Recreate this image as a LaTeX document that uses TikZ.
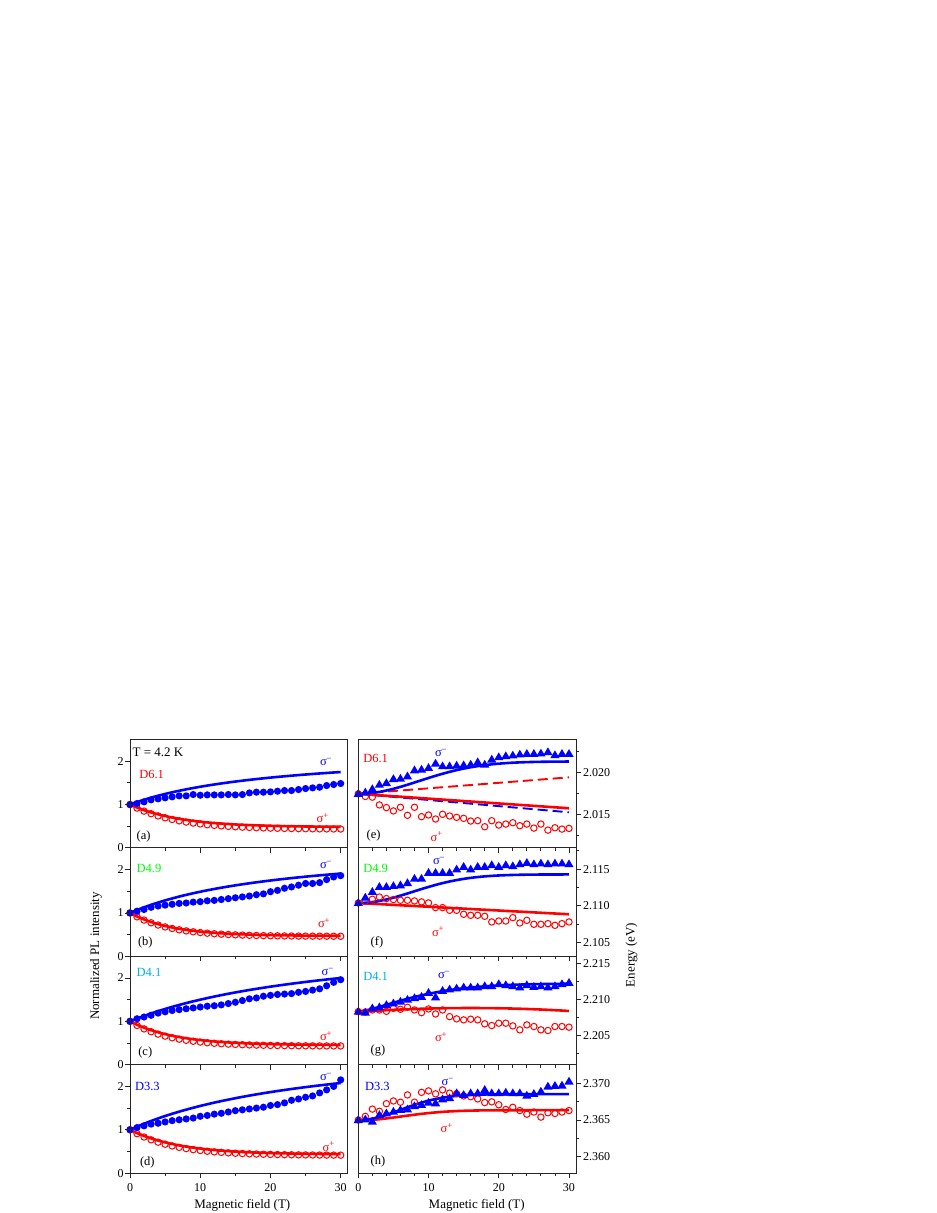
\documentclass[tikz,border=0pt]{standalone}
\usepackage{fontspec}
\setmainfont{Liberation Serif}
\newcommand{\sigmin}{σ\textsuperscript{−}}
\newcommand{\sigpls}{σ\textsuperscript{+}}
\begin{document}
\begin{tikzpicture}[x=1pt,y=-1pt,
  every node/.style={inner sep=0pt, outer sep=0pt},
  frame/.style={line width=0.9pt, black!85},
  tk/.style={line width=0.9pt, black!85},
  bfit/.style={blue, line width=2.6pt},
  rfit/.style={red, line width=2.6pt},
  bdash/.style={blue, line width=1.9pt, dash pattern=on 10pt off 5pt},
  rdash/.style={red, line width=1.9pt, dash pattern=on 10pt off 5pt},
  rring/.style={draw=red, line width=1pt},
  ticklab/.style={font=\fontsize{12}{14}\selectfont},
  lab/.style={font=\fontsize{12.5}{14}\selectfont, anchor=west},
  ttl/.style={font=\fontsize{13}{15}\selectfont},
]
\useasboundingbox (0,0) rectangle (937,1213);
\fill[white] (0,0) rectangle (937,1213);

% ================= LEFT PANELS =================
% (a)
\begin{scope}[shift={(130,847.9)}, x=7.023pt, y=43.36pt]
  \draw[rfit] plot[domain=0:30, samples=61, smooth] (\x,{0.48+0.52*exp(-\x/7)});
  \draw[bfit] plot[domain=0:30, samples=61, smooth] (\x,{1+1.28*\x/(\x+21.2)});
  \foreach \i in {0,...,30} \draw[rring] (\i,{0.43+0.57*exp(-\i/6.5)}) circle[radius=3.2pt];
  \foreach \v [count=\i from 0] in {1.0,1.023,1.062,1.108,1.131,1.154,1.177,1.2,1.2,1.231,1.215,1.223,1.223,1.223,1.231,1.223,1.231,1.269,1.285,1.285,1.292,1.308,1.323,1.323,1.346,1.369,1.385,1.4,1.438,1.462,1.485}
    \fill[blue] (\i,\v) circle[radius=3.6pt];
  \foreach \t in {0,1,2} {\draw[tk] (0,\t) -- ++(-5pt,0pt); \node[ticklab,anchor=east,xshift=-6.5pt] at (0,\t) {\t};}
  \foreach \t in {0.5,1.5} \draw[tk] (0,\t) -- ++(-3pt,0pt);
\end{scope}
% (b)
\begin{scope}[shift={(130,956.3)}, x=7.023pt, y=43.36pt]
  \draw[rfit] plot[domain=0:30, samples=61, smooth] (\x,{0.47+0.53*exp(-\x/6)});
  \draw[bfit] plot[domain=0:30, samples=61, smooth] (\x,{1+1.59*\x/(\x+22.5)});
  \foreach \i in {0,...,30} \draw[rring] (\i,{0.46+0.54*exp(-\i/5.5)}) circle[radius=3.2pt];
  \foreach \v [count=\i from 0] in {1.0,1.04,1.08,1.13,1.16,1.18,1.2,1.22,1.23,1.25,1.26,1.28,1.29,1.31,1.33,1.35,1.37,1.39,1.42,1.44,1.49,1.52,1.57,1.6,1.64,1.68,1.68,1.7,1.77,1.83,1.86}
    \fill[blue] (\i,\v) circle[radius=3.6pt];
  \foreach \t in {0,1,2} {\draw[tk] (0,\t) -- ++(-5pt,0pt); \node[ticklab,anchor=east,xshift=-6.5pt] at (0,\t) {\t};}
  \foreach \t in {0.5,1.5} \draw[tk] (0,\t) -- ++(-3pt,0pt);
\end{scope}
% (c)
\begin{scope}[shift={(130,1064.7)}, x=7.023pt, y=43.36pt]
  \draw[rfit] plot[domain=0:30, samples=61, smooth] (\x,{0.45+0.55*exp(-\x/6.5)});
  \draw[bfit] plot[domain=0:30, samples=61, smooth] (\x,{1+2*\x/(\x+30)});
  \foreach \i in {0,...,30} \draw[rring] (\i,{0.43+0.57*exp(-\i/5.5)}) circle[radius=3.2pt];
  \foreach \v [count=\i from 0] in {1.0,1.06,1.10,1.14,1.19,1.22,1.25,1.27,1.29,1.31,1.33,1.35,1.36,1.38,1.41,1.44,1.48,1.52,1.54,1.58,1.60,1.62,1.63,1.64,1.67,1.69,1.72,1.75,1.82,1.90,1.96}
    \fill[blue] (\i,\v) circle[radius=3.6pt];
  \foreach \t in {0,1,2} {\draw[tk] (0,\t) -- ++(-5pt,0pt); \node[ticklab,anchor=east,xshift=-6.5pt] at (0,\t) {\t};}
  \foreach \t in {0.5,1.5} \draw[tk] (0,\t) -- ++(-3pt,0pt);
\end{scope}
% (d)
\begin{scope}[shift={(130,1173.1)}, x=7.023pt, y=43.36pt]
  \draw[rfit] plot[domain=0:30, samples=61, smooth] (\x,{0.43+0.57*exp(-\x/7)});
  \draw[bfit] plot[domain=0:30, samples=61, smooth] (\x,{1+2.08*\x/(\x+27.9)});
  \foreach \i in {0,...,30} \draw[rring] (\i,{0.41+0.59*exp(-\i/6)}) circle[radius=3.2pt];
  \foreach \v [count=\i from 0] in {1.0,1.05,1.09,1.13,1.15,1.18,1.21,1.23,1.25,1.27,1.31,1.33,1.36,1.38,1.41,1.44,1.46,1.48,1.50,1.52,1.56,1.58,1.62,1.68,1.71,1.75,1.78,1.85,1.92,2.0,2.15}
    \fill[blue] (\i,\v) circle[radius=3.6pt];
  \foreach \t in {0,1,2} {\draw[tk] (0,\t) -- ++(-5pt,0pt); \node[ticklab,anchor=east,xshift=-6.5pt] at (0,\t) {\t};}
  \foreach \t in {0.5,1.5} \draw[tk] (0,\t) -- ++(-3pt,0pt);
\end{scope}

% ================= RIGHT PANELS =================
% (e)  E0 = 2.015, meV
\begin{scope}[shift={(358.3,814.3)}, x=7.023pt, y=8.403pt]
  \draw[bdash] (0,2.44) -- (30,0.24);
  \draw[rdash] (0,2.44) -- (30,4.4);
  \draw[rfit] (0,2.44) -- (30,0.72);
  \draw[bfit] plot[domain=0:30, samples=61, smooth] (\x,{2.44+3.85*(1-exp(-(\x/12.2)*(\x/12.2)))});
  \foreach \v [count=\i from 0] in {2.44,2.12,2.04,1.12,0.8,0.4,0.84,-0.12,0.84,-0.28,-0.08,-0.56,0,-0.2,-0.36,-0.48,-0.8,-0.76,-1.48,-0.76,-1.28,-1.16,-1.0,-1.36,-1.16,-1.64,-1.16,-1.88,-1.6,-1.76,-1.68}
    \draw[rring] (\i,\v) circle[radius=3.2pt];
  \foreach \v [count=\i from 0] in {2.44,2.6,3.0,3.52,3.72,4.2,4.24,4.52,5.24,5.32,5.52,6.04,5.72,5.72,5.8,5.84,5.92,6.2,5.92,6.52,6.8,6.92,7.0,7.12,7.2,7.2,7.24,7.4,7.04,7.2,7.2}
    \fill[blue] (\i,\v) ++(-4.6pt,-3pt) -- ++(9.2pt,0pt) -- ++(-4.6pt,7.8pt) -- cycle;
  \foreach \t/\l in {0/2.015,5/2.020} {\draw[tk] (31,\t) -- ++(5pt,0pt); \node[ticklab,anchor=west,xshift=7pt] at (31,\t) {\l};}
  \foreach \t in {-2.5,2.5,7.5} \draw[tk] (31,\t) -- ++(3pt,0pt);
\end{scope}
% (f)  E0 = 2.110
\begin{scope}[shift={(358.3,905.76)}, x=7.023pt, y=7.324pt]
  \draw[rfit] (0,0.38) -- (30,-1.16);
  \draw[bfit] plot[domain=0:30, samples=61, smooth] (\x,{0.38+3.9*(1-exp(-(\x/11)*(\x/11)))});
  \foreach \v [count=\i from 0] in {0.38,0.6,0.89,1.2,0.98,0.85,0.75,0.75,0.66,0.53,0.39,-0.25,-0.25,-0.62,-0.62,-1.16,-1.3,-1.3,-1.44,-2.21,-2.08,-2.08,-1.62,-2.35,-1.99,-2.53,-2.53,-2.44,-2.67,-2.44,-2.21}
    \draw[rring] (\i,\v) circle[radius=3.2pt];
  \foreach \v [count=\i from 0] in {0.38,1.12,1.9,2.58,2.58,2.7,2.8,3.1,3.7,3.7,4.5,4.5,4.5,4.5,4.96,5.32,4.96,5.32,5.32,5.55,5.32,5.55,5.41,5.68,5.86,5.68,5.78,5.68,5.78,5.78,5.68}
    \fill[blue] (\i,\v) ++(-4.6pt,-3pt) -- ++(9.2pt,0pt) -- ++(-4.6pt,7.8pt) -- cycle;
  \foreach \t/\l in {-5/2.105,0/2.110,5/2.115} {\draw[tk] (31,\t) -- ++(5pt,0pt); \node[ticklab,anchor=west,xshift=7pt] at (31,\t) {\l};}
  \foreach \t in {-2.5,2.5,7.5} \draw[tk] (31,\t) -- ++(3pt,0pt);
\end{scope}
% (g)  E0 = 2.210
\begin{scope}[shift={(358.3,999.7)}, x=7.023pt, y=7.227pt]
  \draw[rfit] plot[domain=0:30, samples=61, smooth] (\x,{-1.75+0.6*(1-((\x-16)/17)*((\x-16)/17))});
  \draw[bfit] plot[domain=0.01:30, samples=61, smooth] (\x,{-1.65+3.9*(1-exp(0-pow(\x/10,1.4)))});
  \foreach \v [count=\i from 0] in {-1.65,-1.7,-1.42,-1.42,-1.6,-1.19,-1.32,-1.05,-1.42,-1.79,-1.28,-1.97,-1.42,-2.34,-2.65,-2.79,-2.70,-2.79,-3.34,-3.57,-3.25,-3.25,-3.62,-4.17,-3.48,-3.71,-4.17,-4.26,-3.71,-3.71,-3.80}
    \draw[rring] (\i,\v) circle[radius=3.2pt];
  \foreach \v [count=\i from 0] in {-1.65,-1.79,-1.19,-1.05,-0.73,-0.5,-0.27,0,0.23,0.41,0.96,0.33,1.24,1.42,1.56,1.7,1.7,1.7,1.88,1.88,2.16,2.02,1.88,1.7,2.02,1.79,1.88,1.7,1.88,2.16,2.34}
    \fill[blue] (\i,\v) ++(-4.6pt,-3pt) -- ++(9.2pt,0pt) -- ++(-4.6pt,7.8pt) -- cycle;
  \foreach \t/\l in {-5/2.205,0/2.210,5/2.215} {\draw[tk] (31,\t) -- ++(5pt,0pt); \node[ticklab,anchor=west,xshift=7pt] at (31,\t) {\l};}
  \foreach \t in {-7.5,-2.5,2.5} \draw[tk] (31,\t) -- ++(3pt,0pt);
\end{scope}
% (h)  E0 = 2.365
\begin{scope}[shift={(358.3,1120.0)}, x=7.023pt, y=7.275pt]
  \draw[rfit] plot[domain=0:30, samples=61, smooth] (\x,{1.35*(1-exp(-(\x/9)*(\x/9)))-0.1*exp(-\x/3)});
  \draw[bfit] plot[domain=0:30, samples=61, smooth] (\x,{3.55*(1-exp(-(\x/8.5)*(\x/8.5)))});
  \foreach \v [count=\i from 0] in {0,0.5,1.5,1.2,2.25,2.62,2.45,3.45,2.45,3.8,4.0,3.6,4.14,3.7,3.62,3.31,3.2,2.9,2.4,2.5,2.1,1.45,1.75,1.3,0.8,1.1,0.4,1.0,0.9,1.1,1.3}
    \draw[rring] (\i,\v) circle[radius=3.2pt];
  \foreach \v [count=\i from 0] in {0,0.09,-0.23,0.69,0.92,1.15,1.38,1.47,1.9,2.07,2.39,2.3,2.85,3.0,3.68,3.45,3.68,3.68,4.14,3.68,3.68,3.77,3.68,3.68,3.36,3.59,3.91,4.6,4.7,4.74,5.29}
    \fill[blue] (\i,\v) ++(-4.6pt,-3pt) -- ++(9.2pt,0pt) -- ++(-4.6pt,7.8pt) -- cycle;
  \foreach \t/\l in {-5/2.360,0/2.365,5/2.370} {\draw[tk] (31,\t) -- ++(5pt,0pt); \node[ticklab,anchor=west,xshift=7pt] at (31,\t) {\l};}
  \foreach \t in {-2.5,2.5} \draw[tk] (31,\t) -- ++(3pt,0pt);
\end{scope}

% ================= FRAMES AND X TICKS =================
\foreach \k in {0,1,2,3} {
  \draw[frame] (130,{739.5+108.4*\k}) rectangle (347.7,{739.5+108.4*(\k+1)});
  \draw[frame] (358.3,{739.5+108.4*\k}) rectangle (576.0,{739.5+108.4*(\k+1)});
}
\foreach \b in {847.9,956.3,1064.7,1173.1} {
  \foreach \t in {0,10,20,30} \draw[tk] ({130+7.023*\t},\b) -- ++(0,5);
  \foreach \t in {5,15,25} \draw[tk] ({130+7.023*\t},\b) -- ++(0,3);
  \foreach \t in {0,10,20,30} \draw[tk] ({358.3+7.023*\t},\b) -- ++(0,5);
  \foreach \t in {2,4,6,8,12,14,16,18,22,24,26,28} \draw[tk] ({358.3+7.023*\t},\b) -- ++(0,3);
}
\foreach \t in {0,10,20,30} {
  \node[ticklab] at ({130+7.023*\t},1188) {\t};
  \node[ticklab] at ({358.3+7.023*\t},1188) {\t};
}

% ================= AXIS TITLES =================
\node[ttl] (xl) at (242.3,1205) {Magnetic field (T)};
\node[ttl] (xr) at (476.7,1205) {Magnetic field (T)};
\node[ttl, rotate=90] (yl) at (96,956) {Normalized PL intensity};
\node[ttl, rotate=90] (yr) at (631.5,955) {Energy (eV)};

% ================= PANEL LABELS =================
% (a)
\node[lab, font=\fontsize{13}{15}\selectfont] (temp) at (132.7,752.7) {T = 4.2 K};
\node[lab, red] (da) at (139.3,774) {D6.1};
\node[lab, blue] (sma) at (320,761.7) {\sigmin};
\node[lab, red] (spa) at (316.7,818.3) {\sigpls};
\node[lab] (la) at (136.7,836.7) {(a)};
% (b)
\node[lab, green] (db) at (136.7,868.3) {D4.9};
\node[lab, blue] (smb) at (320,865) {\sigmin};
\node[lab, red] (spb) at (318,923.3) {\sigpls};
\node[lab] (lb) at (138,942.3) {(b)};
% (c)
\node[lab, cyan] (dc) at (136.7,972.7) {D4.1};
\node[lab, blue] (smc) at (321.7,971.7) {\sigmin};
\node[lab, red] (spc) at (320,1036) {\sigpls};
\node[lab] (lc) at (138.3,1052.7) {(c)};
% (d)
\node[lab, blue] (dd) at (135,1086.7) {D3.3};
\node[lab, blue] (smd) at (320,1076.7) {\sigmin};
\node[lab, red] (spd) at (322.7,1146.7) {\sigpls};
\node[lab] (ld) at (140,1162.7) {(d)};
% (e)
\node[lab, red] (de) at (363.3,758.3) {D6.1};
\node[lab, blue] (sme) at (435,752.7) {\sigmin};
\node[lab, red] (spe) at (430.7,836.7) {\sigpls};
\node[lab] (le) at (366.7,835.7) {(e)};
% (f)
\node[lab, green] (df) at (363.3,868.3) {D4.9};
\node[lab, blue] (smf) at (433,861) {\sigmin};
\node[lab, red] (spf) at (432,931.7) {\sigpls};
\node[lab] (lf) at (370.7,942.7) {(f)};
% (g)
\node[lab, cyan] (dg) at (363.3,976) {D4.1};
\node[lab, blue] (smg) at (438,975) {\sigmin};
\node[lab, red] (spg) at (435,1037.3) {\sigpls};
\node[lab] (lg) at (370.7,1050) {(g)};
% (h)
\node[lab, blue] (dh) at (365,1086) {D3.3};
\node[lab, blue] (smh) at (441.7,1081.7) {\sigmin};
\node[lab, red] (sph) at (440.7,1128.3) {\sigpls};
\node[lab] (lh) at (370.7,1161.7) {(h)};
\end{tikzpicture}
\end{document}
